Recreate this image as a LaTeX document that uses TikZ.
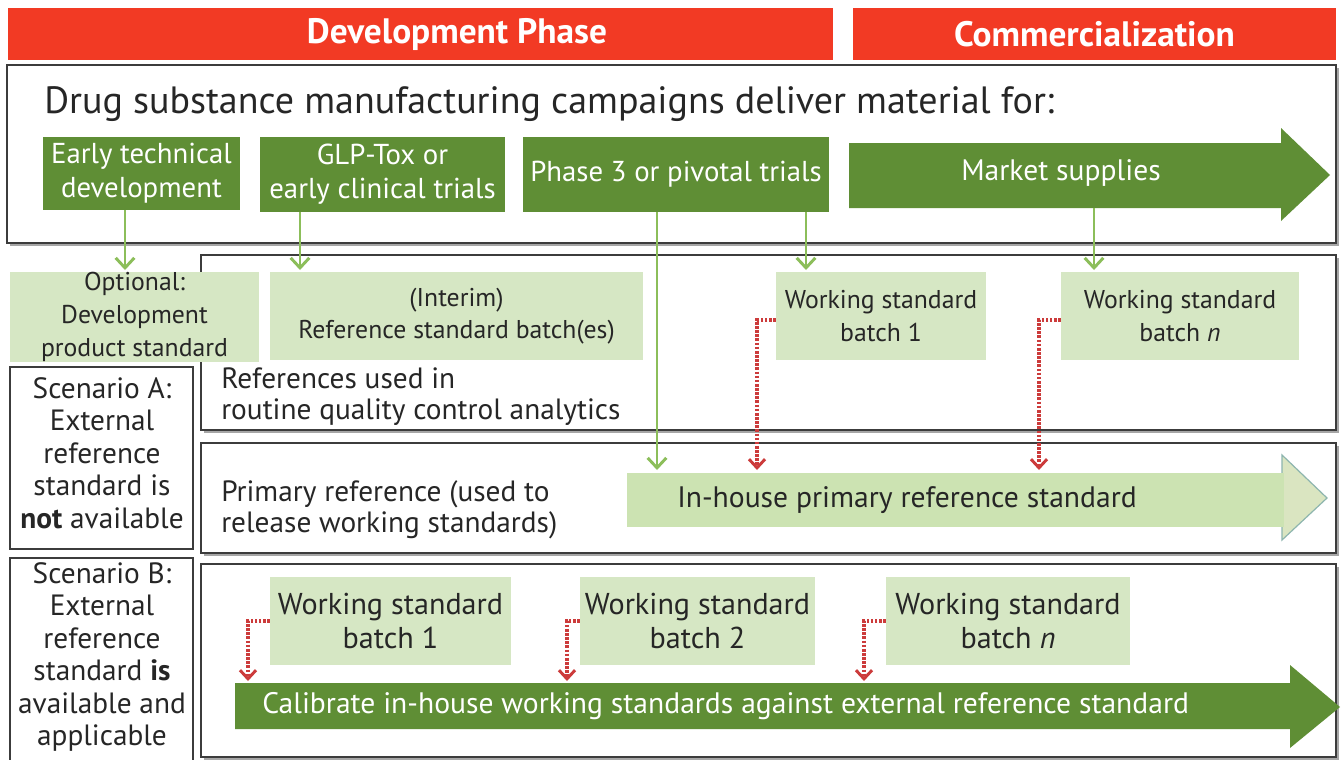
\documentclass[tikz,border=0pt]{standalone}
\usepackage{fontspec}
\setmainfont{PT Sans}
\usetikzlibrary{arrows.meta,calc}

\definecolor{hdrred}{HTML}{F23A24}
\definecolor{dkgreen}{HTML}{5F8E35}
\definecolor{ltgreen}{HTML}{D6E7C4}
\definecolor{lnGreen}{HTML}{8CBE5A}
\definecolor{bandgreen}{HTML}{CCE3B2}
\definecolor{headline}{HTML}{8DB5AE}
\definecolor{dotred}{HTML}{CC3B3B}
\definecolor{frameline}{HTML}{3C3C3C}
\definecolor{txt}{HTML}{262626}

% a box given by its corners in pixel units: style, name, x1, y1, x2, y2, text
\newcommand\pxbox[7]{%
  \node[#1, minimum width={(#5-#3)*0.75pt}, minimum height={(#6-#4)*0.75pt}]
    (#2) at ({(#3+#5)/2},{(#4+#6)/2}) {#7};}

\tikzset{
  frame/.style={draw=frameline, line width=1.1pt, fill=white},
  frameshadow/.style={fill=black!35},
  hdr/.style={fill=hdrred, inner sep=0pt},
  hdrtext/.style={inner sep=0pt, text=white,
    font=\fontsize{26.5}{30}\selectfont\bfseries},
  dkbox/.style={fill=dkgreen, inner sep=0pt, text=white, align=center,
    font=\fontsize{21.6}{25.5}\selectfont},
  ltbox/.style={fill=ltgreen, inner sep=0pt, text=txt, align=center,
    font=\fontsize{19.3}{24.5}\selectfont},
  ltboxB/.style={fill=ltgreen, inner sep=0pt, text=txt, align=center,
    font=\fontsize{22.6}{25.5}\selectfont},
  scen/.style={draw=frameline, line width=1.1pt, inner sep=0pt},
  scentext/.style={inner sep=0pt, text=txt, align=center,
    font=\fontsize{22}{24.3}\selectfont},
  plain/.style={inner sep=0pt, text=txt, align=left,
    font=\fontsize{22}{23.5}\selectfont},
  bandtext/.style={inner sep=0pt, anchor=west, font=\fontsize{22.2}{24}\selectfont},
  feed/.style={draw=lnGreen, line width=2.2pt,
    -{Straight Barb[length=7.5pt,width=14pt,line width=2.2pt]}},
  calib/.style={draw=dotred, line width=2.4pt, dash pattern=on 2pt off 1.1pt,
    -{Straight Barb[length=6.5pt,width=12pt,line width=2.2pt]}},
}

\begin{document}
\begin{tikzpicture}[x=0.75pt,y=-0.75pt]
\useasboundingbox[fill=white] (0,0) rectangle (1342,760);

% phase headers
\pxbox{hdr}{devphase}{8}{8}{833}{60}{}
\pxbox{hdr}{comm}{853}{8}{1336}{60}{}
\node[hdrtext] (devphaseT) at (457,34) {Development Phase};
\node[hdrtext] (commT) at (comm.center) {Commercialization};

% outer frames with a soft shadow
\foreach \xa/\ya/\xb/\yb in {7/65/1336/243, 201/255/1336/430,
                              201/443/1336/553, 201/564/1336/757}{
  \fill[frameshadow] (\xa+3,\ya+3) rectangle (\xb+3,\yb+3);
  \draw[frame] (\xa,\ya) rectangle (\xb,\yb);
}

% campaign row
\node[anchor=base west, inner sep=0pt, text=txt,
      font=\fontsize{28.5}{30}\selectfont] (title) at (44,113)
  {Drug substance manufacturing campaigns deliver material for:};

\pxbox{dkbox}{early}{43}{137}{240}{210}{Early technical\\development}
\pxbox{dkbox}{glp}{260}{137}{505}{212}{GLP-Tox or\\early clinical trials}
\pxbox{dkbox}{ph3}{523}{137}{829}{212}{Phase 3 or pivotal trials}

\fill[dkgreen] (849,143) -- (1281,143) -- (1281,128) -- (1330,175)
  -- (1281,221) -- (1281,208) -- (849,208) -- cycle;
\node[inner sep=0pt, text=white, font=\fontsize{22.2}{24}\selectfont]
  (market) at (1061,173) {Market supplies};
\coordinate (mktfoot) at (1094,208);

% reference material row
\pxbox{ltbox}{devstd}{10}{272}{259}{362}{Optional:\\Development\\product standard}
\pxbox{ltbox}{interim}{270}{272}{643}{360}{(Interim)\\Reference standard batch(es)}
\pxbox{ltbox}{ws1}{776}{272}{986}{360}{Working standard\\batch 1}
\pxbox{ltbox}{wsn}{1061}{272}{1299}{360}{Working standard\\batch \textit{n}}

\node[plain, anchor=north west] (routine) at (221,367)
  {References used in\\routine quality control analytics};

% scenario A
\pxbox{scen}{scenA}{10}{367}{193}{549}{}
\node[scentext] (scenAT) at (102,453)
  {Scenario A:\\External\\reference\\standard is\\\textbf{not} available};

\node[plain, anchor=north west] (primary) at (221,480)
  {Primary reference (used to\\release working standards)};

% in-house primary reference band
\fill[bandgreen] (627,473) rectangle (1282,527);
\draw[headline, fill=bandgreen!85!olive!60!white, line width=0.9pt]
  (1282,455) -- (1327,498) -- (1282,540) -- cycle;
\fill[bandgreen] (1278,473) rectangle (1283.5,527);
\node[bandtext, text=txt] (inhouse) at (677,500) {In-house primary reference standard};

% scenario B
\pxbox{scen}{scenB}{10}{558}{193}{770}{}
\node[scentext] (scenBT) at (102,657)
  {Scenario B:\\External\\reference\\standard \textbf{is}\\available and\\applicable};

\pxbox{ltboxB}{wsB1}{270}{577}{511}{665}{Working standard\\batch 1}
\pxbox{ltboxB}{wsB2}{580}{577}{815}{665}{Working standard\\batch 2}
\pxbox{ltboxB}{wsBn}{886}{577}{1130}{665}{Working standard\\batch \textit{n}}

\fill[dkgreen] (235,683) -- (1290,683) -- (1290,665) -- (1340,707)
  -- (1290,748) -- (1290,729) -- (235,729) -- cycle;
\node[bandtext, text=white] (calibrate) at (262,706)
  {Calibrate in-house working standards against external reference standard};

% connector end points
\coordinate (tEarly) at (125,270);
\coordinate (tGlp) at (300,270);
\coordinate (tPh3) at (657,470);
\coordinate (tWs1) at (806,270);
\coordinate (tMkt) at (1094,270);
\coordinate (tA1) at (757,470);
\coordinate (tAn) at (1039,470);
\coordinate (tB1) at (248,681);
\coordinate (tB2) at (567,681);
\coordinate (tBn) at (864,681);

% supply connectors
\draw[feed] (early.south -| tEarly) -- (tEarly);
\draw[feed] (glp.south -| tGlp) -- (tGlp);
\draw[feed] (ph3.south -| tPh3) -- (tPh3);
\draw[feed] (ph3.south -| tWs1) -- (tWs1);
\draw[feed] (mktfoot) -- (tMkt);

% release connectors
\draw[calib] ([yshift=-3pt]ws1.west) -| (tA1);
\draw[calib] ([yshift=-3pt]wsn.west) -| (tAn);
\draw[calib] (wsB1.west) -| (tB1);
\draw[calib] (wsB2.west) -| (tB2);
\draw[calib] (wsBn.west) -| (tBn);
\end{tikzpicture}
\end{document}
